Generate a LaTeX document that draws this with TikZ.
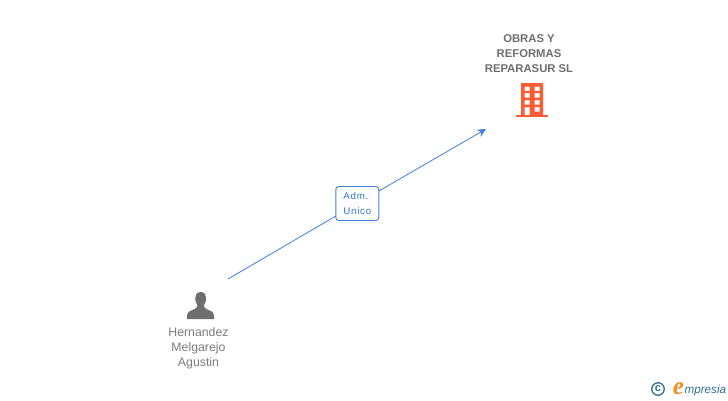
\documentclass[tikz,border=0pt]{standalone}
\usepackage{fontspec}
\setmainfont{Liberation Sans}
\newfontfamily\logofont{Liberation Serif}
\definecolor{edgeblue}{HTML}{3F7FDC}
\definecolor{labelblue}{HTML}{2F76D6}
\definecolor{icongray}{HTML}{6E6E6E}
\definecolor{persontext}{HTML}{7C7C7C}
\definecolor{orgtext}{HTML}{6F6F6F}
\definecolor{orgorange}{HTML}{FF5C33}
\definecolor{logoteal}{HTML}{2F6F8F}
\definecolor{logoorange}{HTML}{F28C1E}
\usetikzlibrary{arrows.meta}
\tikzset{
  every node/.style={inner sep=0pt,outer sep=0pt},
  nametext/.style={align=center,font=\fontsize{12.3}{15}\selectfont},
  rolebox/.style={draw=edgeblue,fill=white,rounded corners=3pt,line width=0.9pt,minimum width=43pt,minimum height=34pt,align=left,text=labelblue,font=\fontsize{9.7}{15}\selectfont\addfontfeature{LetterSpace=8}},
  rel/.style={draw=edgeblue,line width=0.8pt},
  reltip/.style={-{Stealth[length=8.5pt,width=8pt]}}
}
\begin{document}
\begin{tikzpicture}[x=1pt,y=-1pt]
\useasboundingbox (0,0) rectangle (728,400);
\fill[white] (0,0) rectangle (728,400);
% connector
\coordinate (from) at (228,279);
\coordinate (to) at (486,129);
\node[rolebox] (role) at (357.3,203.5) {Adm.\\Unico};
\draw[rel] (from) -- (role);
\draw[rel,reltip] (role) -- (to);
% company
\node[align=center,text=orgtext,font=\fontsize{11.3}{15}\selectfont\bfseries] (org) at (529,53.5) {OBRAS Y\\REFORMAS\\REPARASUR SL};
\fill[orgorange,even odd rule] (521,83) rectangle (543,115)
  (524.7,86.5) rectangle (529.7,91) (534.7,86.5) rectangle (539.7,91)
  (524.7,93) rectangle (529.7,97.5) (534.7,93) rectangle (539.7,97.5)
  (524.7,100) rectangle (529.7,104.5) (534.7,100) rectangle (539.7,104.5)
  (524.7,107) rectangle (529.7,115) (534.7,107) rectangle (539.7,111.5);
\fill[orgorange] (516,114.5) rectangle (548,117.3);
% person
\fill[icongray] (200.7,292) .. controls (196.5,292) and (195,295.5) .. (195.2,298.5)
  .. controls (195.4,302) and (196.8,304) .. (197.5,305.5)
  .. controls (197.5,307.5) and (196,308.5) .. (193,309.8)
  .. controls (189,311.3) and (187.3,312.5) .. (187,315)
  -- (187,319) -- (214,319) -- (214,315)
  .. controls (213.7,312.5) and (212,311.3) .. (208,309.8)
  .. controls (205,308.5) and (203.8,307.5) .. (203.8,305.5)
  .. controls (204.6,304) and (206,302) .. (206.2,298.5)
  .. controls (206.4,295.5) and (205,292) .. (200.7,292) -- cycle;
\node[nametext,text=persontext] (person) at (198.5,348.7) {Hernandez\\Melgarejo\\Agustin};
% logo
\node[draw=logoteal,line width=1.3pt,circle,minimum size=12.5pt] (ring) at (658,389) {};
\node[text=logoteal,font=\bfseries\fontsize{11}{11}\selectfont] (copy) at (ring.center) {c};
\node[text=logoorange,font=\logofont\itshape\bfseries\fontsize{25}{25}\selectfont,anchor=base] (elogo) at (678.5,394) {e};
\node[text=logoteal,font=\itshape\fontsize{11.7}{13}\selectfont,anchor=base west] (mpresia) at (684.5,393) {mpresia};
\end{tikzpicture}
\end{document}
